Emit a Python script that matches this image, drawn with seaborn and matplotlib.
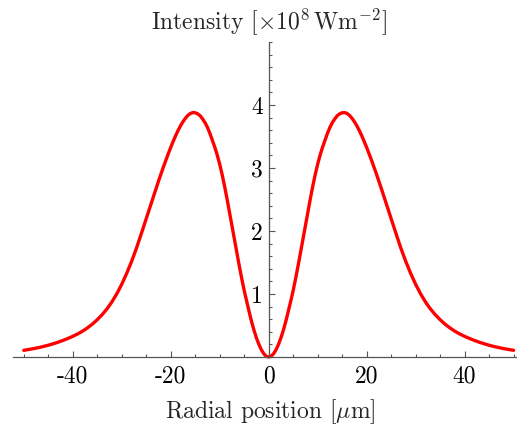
import numpy as np
import pandas as pd
import seaborn as sns
from matplotlib import pyplot as plt
from matplotlib.ticker import MultipleLocator

#radial position [um] for one half of the profile (curve is symmetric)
radius = [0, 0.5, 1, 1.5, 2, 2.5, 3, 3.5, 4, 4.5, 5, 5.5, 6, 6.5, 7, 7.5, 8, 8.5,
          9, 9.5, 10, 10.5, 11, 11.5, 12, 12.5, 13, 13.5, 14, 14.5, 15, 15.5, 16,
          16.5, 17, 17.5, 18, 18.5, 19, 19.5, 20, 20.5, 21, 21.5, 22, 22.5, 23,
          23.5, 24, 24.5, 25, 25.5, 26, 26.5, 27, 28, 29, 30, 31, 32, 33, 34, 35,
          36, 37, 38, 39, 40, 41, 42, 43, 44, 45, 46, 47, 48, 49, 50]
#intensity [x10^8 W m^-2]
intensity = [0.0, 0.012, 0.052, 0.115, 0.200, 0.303, 0.425, 0.565, 0.722, 0.885,
             1.055, 1.245, 1.445, 1.655, 1.87, 2.085, 2.30, 2.51, 2.71, 2.895,
             3.06, 3.205, 3.33, 3.44, 3.55, 3.645, 3.72, 3.78, 3.83, 3.86, 3.877,
             3.88, 3.865, 3.835, 3.79, 3.735, 3.67, 3.595, 3.512, 3.422, 3.327,
             3.227, 3.123, 3.015, 2.904, 2.79, 2.674, 2.556, 2.437, 2.317, 2.197,
             2.077, 1.958, 1.841, 1.726, 1.515, 1.325, 1.155, 1.005, 0.875, 0.765,
             0.672, 0.592, 0.522, 0.462, 0.41, 0.366, 0.328, 0.294, 0.263, 0.235,
             0.21, 0.187, 0.167, 0.149, 0.133, 0.119, 0.106]

x_ticks = [-40, -20, 0, 20, 40]
x_labels = ['-40', '-20', '0', '20', '40']
y_ticks = [1, 2, 3, 4]
y_labels = ['1', '2', '3', '4']

#mirror the half profile to get the full curve
r_full = [-r for r in radius[::-1]] + radius[1:]
i_full = intensity[::-1] + intensity[1:]
df = pd.DataFrame({'r': r_full, 'I': i_full})

sns.set_style('white')
plt.rcParams['font.family'] = 'serif'
plt.rcParams['font.serif'] = ['cmr10']
plt.rcParams['mathtext.fontset'] = 'cm'
plt.rcParams['axes.unicode_minus'] = False

fig = plt.figure(figsize=(5.17, 4.30), dpi=100)
ax = fig.add_axes([13 / 517, 73 / 430, 504 / 517, 315 / 430])

sns.lineplot(data=df, x='r', y='I', color='#ff0000', linewidth=2.4, ax=ax,
             clip_on=False, solid_joinstyle='round')

ax.set_xlim(-52.2, 50.7)
ax.set_ylim(0, 5)

axis_col = '#555555'
ax.spines['top'].set_visible(False)
ax.spines['right'].set_visible(False)
ax.spines['left'].set_position(('data', 0))
for s in ['left', 'bottom']:
	ax.spines[s].set_color(axis_col)
	ax.spines[s].set_linewidth(0.9)

ax.set_xticks(x_ticks)
ax.set_xticklabels(x_labels)
ax.set_yticks(y_ticks)
ax.set_yticklabels(y_labels)
ax.xaxis.set_minor_locator(MultipleLocator(5))
ax.yaxis.set_minor_locator(MultipleLocator(0.2))
ax.tick_params(which='both', bottom=True, left=True, direction='in', color=axis_col,
               width=0.8, labelsize=17, labelcolor='black')
ax.tick_params(which='major', length=4.5)
ax.tick_params(which='minor', length=2.5)
ax.tick_params(axis='x', pad=6)
ax.tick_params(axis='y', pad=4)

ax.set_xlabel('')
ax.set_ylabel('')
fig.text(270 / 517, 1 - 412 / 430, r'Radial position [$\mu$m]', ha='center', va='center', fontsize=17)
fig.text(269 / 517, 1 - 22 / 430, r'Intensity [$\times 10^8\,\mathrm{Wm}^{-2}$]', ha='center', va='center', fontsize=17)

plt.savefig('out.png', dpi=100)
